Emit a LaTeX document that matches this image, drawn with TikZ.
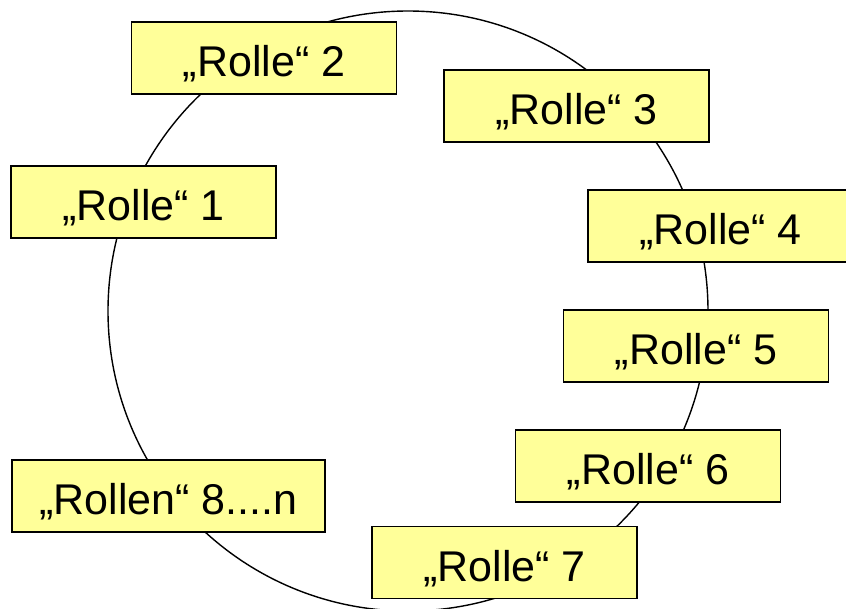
\documentclass[tikz,border=0pt]{standalone}
\usepackage{fontspec}
\setmainfont{Liberation Sans}
\definecolor{boxfill}{HTML}{FFFF99}
\begin{document}
\begin{tikzpicture}[x=1pt,y=-1pt,
  rolebox/.style={draw=black, line width=1.3pt, fill=boxfill, minimum width=265pt, minimum height=72pt,
    inner sep=0pt, text height=37pt, text depth=0pt, font=\fontsize{43}{50}\selectfont},
  ring/.style={draw=black, line width=1.4pt}]
\useasboundingbox (0,0) rectangle (846,608);
\clip (0,0) rectangle (846,608);
\draw[ring] (408,311) circle[radius=300pt];
\node[rolebox] (r2) at (264,58) {„Rolle“ 2};
\node[rolebox] (r3) at (576.5,106) {„Rolle“ 3};
\node[rolebox] (r1) at (143.5,202) {„Rolle“ 1};
\node[rolebox] (r4) at (720.5,226) {„Rolle“ 4};
\node[rolebox] (r5) at (696,346) {„Rolle“ 5};
\node[rolebox] (r6) at (648,466) {„Rolle“ 6};
\node[rolebox, minimum width=313pt] (r8) at (168.5,496) {„Rollen“ 8....n};
\node[rolebox] (r7) at (504.5,562.5) {„Rolle“ 7};
\end{tikzpicture}
\end{document}
